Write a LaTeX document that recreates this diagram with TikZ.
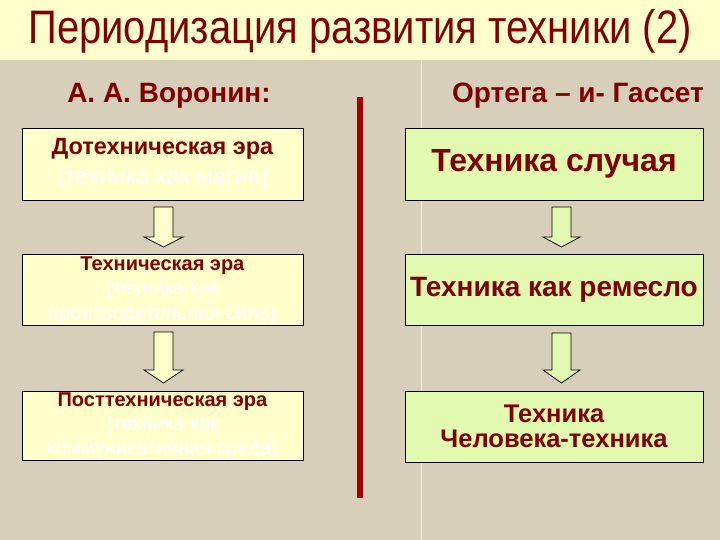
\documentclass[tikz,border=0pt]{standalone}
\usepackage{fontspec}
\setmainfont{Liberation Sans}
\newfontfamily\narrowfont[FakeStretch=0.85]{Liberation Sans}
\definecolor{bgbeige}{RGB}{216,207,187}
\definecolor{bandcream}{RGB}{255,255,206}
\definecolor{darkred}{RGB}{128,0,0}
\definecolor{barred}{RGB}{165,0,0}
\definecolor{boxyellow}{RGB}{255,255,204}
\definecolor{boxgreen}{RGB}{225,250,176}
\begin{document}
\begin{tikzpicture}[x=1pt, y=-1pt,
    eraL/.style={draw=black, line width=0.8pt, fill=boxyellow, minimum width=281pt, align=center, text=darkred, inner sep=0pt},
    eraR/.style={draw=black, line width=0.8pt, fill=boxgreen, minimum width=298pt, align=center, text=darkred, inner sep=0pt},
    head/.style={font=\bfseries\fontsize{28}{32}\selectfont, text=darkred},
    arrowL/.style={draw=black, line width=0.8pt, fill=boxyellow, line join=miter},
    arrowR/.style={draw=black, line width=0.8pt, fill=boxgreen, line join=miter}]
    \useasboundingbox (0,0) rectangle (720,540);
    % фон и полоса заголовка
    \fill[bgbeige] (0,0) rectangle (720,540);
    \fill[bandcream] (0,0) rectangle (720,60);
    \draw[white!55!bgbeige, line width=1pt] (421,60) -- (421,540);

    \node[font=\narrowfont\fontsize{47}{50}\selectfont, text=darkred] (title) at (360,31) {Периодизация развития техники (2)};

    % авторы
    \node[head] (voronin) at (169,96) {А. А. Воронин:};
    \node[head] (ortega) at (578,96) {Ортега – и- Гассет};

    % разделительная черта
    \fill[barred] (357,97) rectangle (363,498);

    % левая колонка
    \node[eraL, minimum height=72pt, font=\fontsize{23.5}{30}\selectfont] (doera) at (162.5,164) {\textbf{Дотехническая эра}\\{\color{white}(техника как магия)}};
    \node[eraL, minimum height=71pt, font=\fontsize{20}{24.5}\selectfont] (tehera) at (162.5,290) {\textbf{Техническая эра}\\{\color{white}(техника как}\\{\color{white}производительная сила)}};
    \node[eraL, minimum height=69pt, font=\fontsize{20}{24}\selectfont] (postera) at (162.5,426) {\textbf{Посттехническая эра}\\{\color{white}(техника как}\\{\color{white}коммуникативная среда)}};

    \filldraw[arrowL] (154,207) -- (173,207) -- (173,237) -- (183,237) -- (163.5,247) -- (144,237) -- (154,237) -- cycle;
    \filldraw[arrowL] (154,332) -- (173,332) -- (173,370) -- (183,370) -- (163.5,383) -- (144,370) -- (154,370) -- cycle;

    % правая колонка
    \node[eraR, minimum height=72pt, font=\bfseries\fontsize{32}{36}\selectfont] (sluchay) at (554,164) {Техника случая};
    \node[eraR, minimum height=71pt, font=\bfseries\fontsize{28}{32}\selectfont] (remeslo) at (554,289.5) {Техника как ремесло};
    \node[eraR, minimum height=71pt, font=\bfseries\fontsize{25.5}{25}\selectfont] (chelovek) at (554,426.5) {Техника\\Человека-техника};

    \filldraw[arrowR] (552,207) -- (571,207) -- (571,237) -- (580,237) -- (561.5,247) -- (543,237) -- (552,237) -- cycle;
    \filldraw[arrowR] (552,333) -- (571,333) -- (571,370) -- (580,370) -- (561.5,383) -- (543,370) -- (552,370) -- cycle;
\end{tikzpicture}
\end{document}
